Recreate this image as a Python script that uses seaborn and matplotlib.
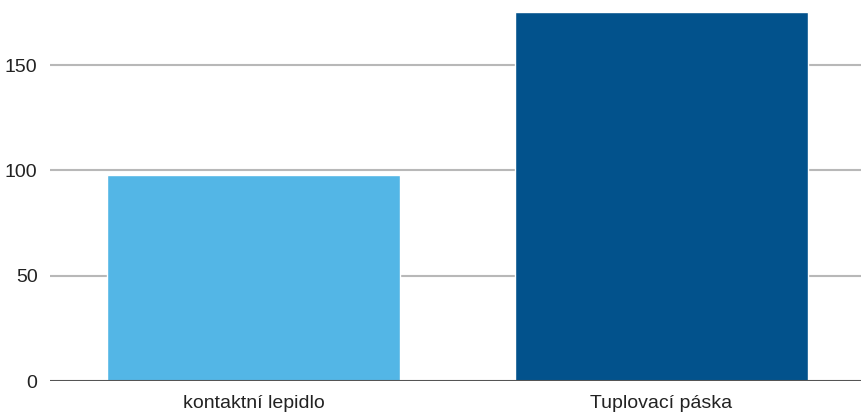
import matplotlib
matplotlib.use("Agg")
import matplotlib.pyplot as plt
import seaborn as sns
import pandas as pd

categories = ["kontaktní lepidlo", "Tuplovací páska"]
values = [97.7, 175.2]
colors = ["#53B6E6", "#02528C"]
yticks = [0, 50, 100, 150]

sns.set_theme(style="white")
plt.rcParams['font.family'] = ['Liberation Sans', 'DejaVu Sans']

df = pd.DataFrame({"kategorie": categories, "hodnota": values})

fig = plt.figure(figsize=(8.61, 4.17), dpi=100)
ax = fig.add_axes([50 / 861, 36 / 417, 811 / 861, 369 / 417])

sns.barplot(data=df, x="kategorie", y="hodnota", hue="kategorie",
            palette=colors, width=0.72, saturation=1, legend=False, ax=ax, zorder=3)

ax.set_ylim(0, 175.2)
ax.set_xlim(-0.5, 1.49)
ax.set_yticks(yticks)
for y in yticks[1:]:
    ax.axhline(y, color="#b8b8b8", lw=1.5, zorder=1)
ax.axhline(0, color="#555555", lw=1.5, zorder=4)

for s in ax.spines.values():
    s.set_visible(False)
ax.tick_params(axis="both", length=0, labelsize=14, colors="#222222")
ax.tick_params(axis="y", pad=9)
ax.tick_params(axis="x", pad=10)
ax.set_xlabel("")
ax.set_ylabel("")

fig.savefig("out.png", dpi=100)
